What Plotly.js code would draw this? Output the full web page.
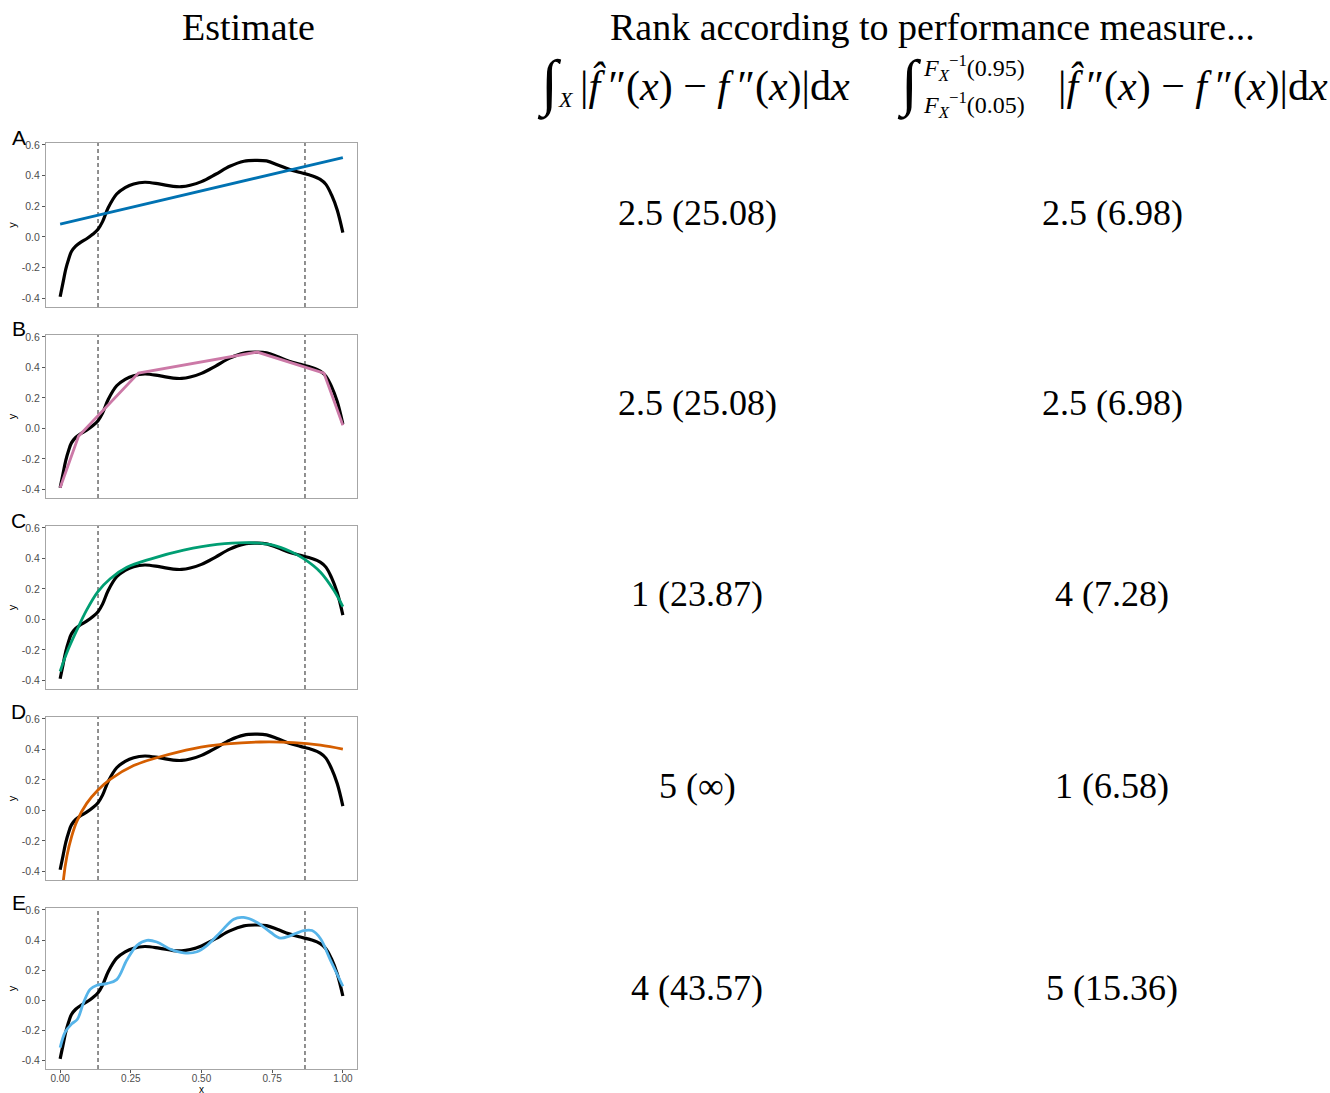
<!DOCTYPE html>
<html>
<head>
<meta charset="utf-8">
<script src="https://cdn.plot.ly/plotly-3.0.1.min.js"></script>
<style>html,body{margin:0;padding:0;background:#fff;} #chart{width:1330px;height:1093px;}</style>
</head>
<body>
<div id="chart"></div>
<script>
// ---------- data ----------
const panelLetters = ["A", "B", "C", "D", "E"];

const xTrue = [0, 0.01, 0.02, 0.03, 0.04, 0.055, 0.075, 0.095, 0.115, 0.134, 0.15, 0.17, 0.2, 0.23, 0.26, 0.3, 0.35, 0.4, 0.43, 0.46, 0.5, 0.55, 0.6, 0.65, 0.69, 0.73, 0.77, 0.81, 0.85, 0.89, 0.92, 0.94, 0.96, 0.98, 1.0];
const yTrue = [-0.39, -0.30, -0.21, -0.145, -0.095, -0.06, -0.032, -0.01, 0.017, 0.05, 0.10, 0.19, 0.28, 0.322, 0.346, 0.357, 0.346, 0.33, 0.328, 0.337, 0.361, 0.409, 0.461, 0.494, 0.5, 0.496, 0.47, 0.441, 0.42, 0.4, 0.376, 0.343, 0.274, 0.176, 0.028];

const xA = [0, 1];
const yA = [0.083, 0.518];

const xB = [0, 0.065, 0.277, 0.697, 0.933, 1.0];
const yB = [-0.39, -0.052, 0.363, 0.501, 0.363, 0.021];

const xC = [0, 0.024, 0.059, 0.094, 0.133, 0.177, 0.236, 0.319, 0.437, 0.555, 0.673, 0.756, 0.815, 0.864, 0.921, 0.968, 1.0];
const yC = [-0.342, -0.217, -0.071, 0.062, 0.181, 0.267, 0.342, 0.396, 0.454, 0.492, 0.503, 0.486, 0.445, 0.396, 0.31, 0.191, 0.084];

const xD = [0.006, 0.012, 0.024, 0.041, 0.059, 0.094, 0.133, 0.177, 0.26, 0.354, 0.472, 0.59, 0.708, 0.826, 0.921, 1.0];
const yD = [-0.62, -0.45, -0.299, -0.169, -0.072, 0.046, 0.132, 0.203, 0.294, 0.352, 0.406, 0.436, 0.449, 0.445, 0.428, 0.402];

const xE = [0, 0.018, 0.041, 0.061, 0.083, 0.106, 0.13, 0.165, 0.2, 0.236, 0.272, 0.307, 0.342, 0.39, 0.437, 0.484, 0.52, 0.567, 0.614, 0.649, 0.697, 0.744, 0.779, 0.815, 0.862, 0.891, 0.921, 0.956, 1.0];
const yE = [-0.315, -0.211, -0.157, -0.126, -0.015, 0.072, 0.1, 0.111, 0.137, 0.267, 0.365, 0.398, 0.387, 0.339, 0.315, 0.322, 0.365, 0.452, 0.539, 0.55, 0.517, 0.452, 0.413, 0.43, 0.463, 0.463, 0.409, 0.267, 0.093];

const estX = [xA, xB, xC, xD, xE];
const estY = [yA, yB, yC, yD, yE];

const quantiles = [0.134, 0.866];

const xTickVals = [0, 0.25, 0.5, 0.75, 1];
const xTickText = ["0.00", "0.25", "0.50", "0.75", "1.00"];
const yTickVals = [-0.4, -0.2, 0, 0.2, 0.4, 0.6];
const yTickText = ["-0.4", "-0.2", "0.0", "0.2", "0.4", "0.6"];

const rankFull = ["2.5 (25.08)", "2.5 (25.08)", "1 (23.87)", "5 (∞)", "4 (43.57)"];
const rankTrunc = ["2.5 (6.98)", "2.5 (6.98)", "4 (7.28)", "1 (6.58)", "5 (15.36)"];

// ---------- styles / layout ----------
const estColors = ["#0072B2", "#CC79A7", "#009E73", "#D55E00", "#56B4E9"];
const estShape = ["linear", "linear", "spline", "spline", "spline"];
const W = 1330, H = 1093;
const panelTop = [143, 335, 526, 717, 908];
const panelBot = [307, 498, 689, 880, 1069];
const plotLeft = 46, plotRight = 357;
const rowY = [213, 403, 594, 786, 988];
const colX = [697, 1112];

const px = v => v / W;
const py = v => 1 - v / H;

const serif = "Liberation Serif, Times New Roman, serif";
const sans = "Liberation Sans, Arial, sans-serif";

const traces = [];
const layout = {
  width: W, height: H, autosize: false,
  margin: {l: 0, r: 0, t: 0, b: 0},
  paper_bgcolor: "#ffffff", plot_bgcolor: "#ffffff",
  showlegend: false,
  annotations: [], shapes: []
};

panelLetters.forEach((L, i) => {
  const n = i + 1;
  const xa = n === 1 ? "x" : "x" + n;
  const ya = n === 1 ? "y" : "y" + n;
  const xKey = n === 1 ? "xaxis" : "xaxis" + n;
  const yKey = n === 1 ? "yaxis" : "yaxis" + n;
  const isLast = i === panelLetters.length - 1;

  traces.push({
    x: xTrue, y: yTrue, xaxis: xa, yaxis: ya, type: "scatter", mode: "lines",
    line: {color: "#000000", width: 3.2, shape: "spline", smoothing: 1},
    hoverinfo: "skip"
  });
  traces.push({
    x: estX[i], y: estY[i], xaxis: xa, yaxis: ya, type: "scatter", mode: "lines",
    line: {color: estColors[i], width: 2.8, shape: estShape[i], smoothing: 1},
    hoverinfo: "skip"
  });

  layout[xKey] = {
    domain: [px(plotLeft), px(plotRight)],
    anchor: ya,
    range: [-0.05, 1.05],
    showgrid: false, zeroline: false,
    showline: true, mirror: true, linecolor: "#a6a6a6", linewidth: 1,
    ticks: isLast ? "outside" : "", ticklen: 3, tickcolor: "#555555",
    tickmode: "array", tickvals: xTickVals, ticktext: xTickText,
    showticklabels: isLast,
    ticklabelstandoff: -3,
    tickfont: {family: sans, size: 10, color: "#4d4d4d"}
  };
  layout[yKey] = {
    domain: [py(panelBot[i]), py(panelTop[i])],
    anchor: xa,
    range: [-0.457, 0.613],
    showgrid: false, zeroline: false,
    showline: true, mirror: true, linecolor: "#a6a6a6", linewidth: 1,
    ticks: "outside", ticklen: 3, tickcolor: "#555555",
    tickmode: "array", tickvals: yTickVals, ticktext: yTickText,
    tickfont: {family: sans, size: 10.5, color: "#4d4d4d"},
    title: {text: "y", font: {family: sans, size: 11, color: "#000"}, standoff: 2}
  };

  quantiles.forEach(q => {
    layout.shapes.push({
      type: "line", xref: xa, yref: ya + " domain", x0: q, x1: q, y0: 0, y1: 1,
      layer: "below", line: {color: "#555555", width: 1.3, dash: "4px,3px"}
    });
  });

  layout.annotations.push({
    xref: "paper", yref: "paper", x: px(18.5), y: py(panelTop[i] - 6),
    xanchor: "center", yanchor: "middle", showarrow: false,
    text: L, font: {family: sans, size: 21, color: "#000"}
  });

  layout.annotations.push({
    xref: "paper", yref: "paper", x: px(colX[0]), y: py(rowY[i]),
    xanchor: "center", yanchor: "middle", showarrow: false,
    text: rankFull[i], font: {family: serif, size: 36, color: "#000"}
  });
  layout.annotations.push({
    xref: "paper", yref: "paper", x: px(colX[1]), y: py(rowY[i]),
    xanchor: "center", yanchor: "middle", showarrow: false,
    text: rankTrunc[i], font: {family: serif, size: 36, color: "#000"}
  });
});

// x axis title of the bottom panel (sits at the very bottom edge, as in the reference)
layout.annotations.push({
  xref: "paper", yref: "paper", x: px(201.5), y: 0, yshift: -3, borderpad: 0,
  xanchor: "center", yanchor: "bottom", showarrow: false,
  text: "x", font: {family: sans, size: 10, color: "#000"}
});

// headers
const ann = (x, y, text, size, xanchor) => ({
  xref: "paper", yref: "paper", x: px(x), y: py(y), xanchor: xanchor || "center",
  yanchor: "middle", showarrow: false, text: text,
  font: {family: serif, size: size, color: "#000"}
});

layout.annotations.push(ann(248, 27, "Estimate", 38));
layout.annotations.push(ann(932, 27, "Rank according to performance measure...", 38));

const body = "|<i>f̂</i>\u2009″(<i>x</i>) − <i>f</i>\u2009″(<i>x</i>)|d<i>x</i>";
// formula 1
layout.annotations.push(ann(549, 84, "∫", 62));
layout.annotations.push(ann(566, 99, "<i>X</i>", 22));
layout.annotations.push(ann(578, 86, body, 42, "left"));
// formula 2
layout.annotations.push(ann(909, 84, "∫", 62));
layout.annotations.push(ann(921, 68, "<i>F</i><sub><i>X</i></sub><sup>−1</sup>(0.95)", 24, "left"));
layout.annotations.push(ann(921, 105, "<i>F</i><sub><i>X</i></sub><sup>−1</sup>(0.05)", 24, "left"));
layout.annotations.push(ann(1056, 86, body, 42, "left"));

Plotly.newPlot("chart", traces, layout, {staticPlot: true, displayModeBar: false});
</script>
</body>
</html>
